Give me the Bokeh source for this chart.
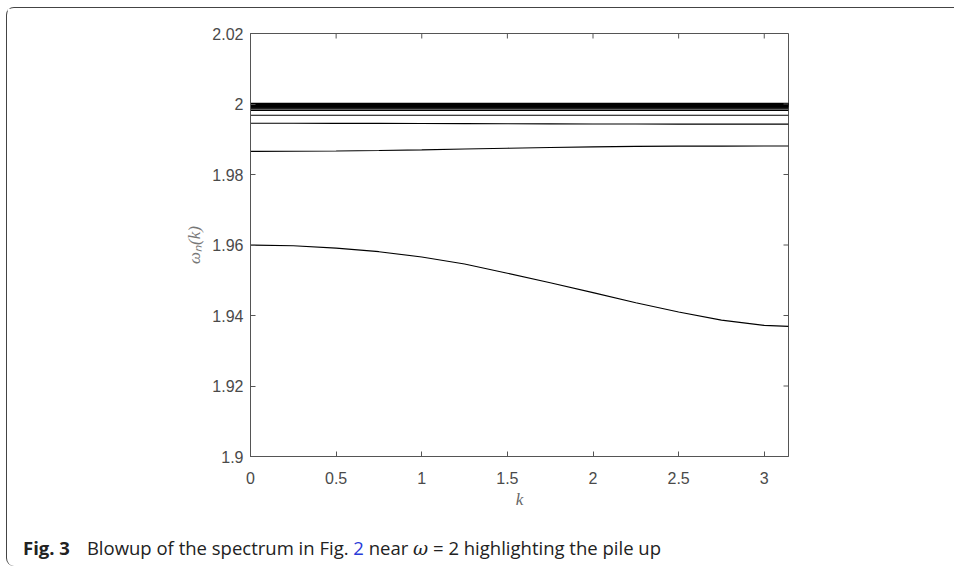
import numpy as np
from bokeh.plotting import figure
from bokeh.models import Range1d, LinearAxis, FixedTicker, Div, ColumnDataSource
from bokeh.layouts import column
from bokeh.embed import file_html
from bokeh.resources import INLINE

# ---------------- data ----------------
k_grid = [0.0, 0.25, 0.5, 0.75, 1.0, 1.25, 1.5, 1.75, 2.0, 2.25, 2.5, 2.75, 3.0, np.pi]

band_lowest = [1.9600, 1.9598, 1.9591, 1.9581, 1.9566, 1.9546, 1.9520,
               1.9493, 1.9465, 1.9436, 1.9410, 1.9387, 1.9372, 1.9369]
band_second = [1.98656, 1.98660, 1.98668, 1.98682, 1.98700, 1.98722, 1.98745,
               1.98766, 1.98785, 1.98797, 1.98803, 1.98806, 1.98808, 1.98808]
band_third = [1.99455, 1.99454, 1.99452, 1.99450, 1.99447, 1.99444, 1.99440,
              1.99437, 1.99434, 1.99432, 1.99430, 1.99429, 1.99428, 1.99428]
# nearly flat bands piling up at omega = 2
flat_levels = [1.9968,
               1.9982, 1.9986, 1.9989, 1.9991, 1.9992, 1.9993, 1.9994, 1.9995,
               1.9996, 1.9997, 1.99975, 1.9998, 1.99985, 1.9999, 1.99995,
               2.0, 2.00005, 2.0001, 2.00015, 2.0002]

x_ticks = [0, 0.5, 1, 1.5, 2, 2.5, 3]
x_tick_labels = ["0", "0.5", "1", "1.5", "2", "2.5", "3"]
y_ticks = [1.9, 1.92, 1.94, 1.96, 1.98, 2.0, 2.02]
y_tick_labels = ["1.9", "1.92", "1.94", "1.96", "1.98", "2", "2.02"]

x_range = (0, np.pi)
y_range = (1.9, 2.02)

AX = "#555555"
TXT = "#4a4a4a"

# ---------------- figure ----------------
p = figure(output_backend="svg", toolbar_location=None,
           frame_width=538, frame_height=423,
           min_border_left=243, min_border_right=158,
           min_border_top=25, min_border_bottom=80,
           x_range=Range1d(*x_range), y_range=Range1d(*y_range),
           x_axis_location=None, y_axis_location=None)
p.xgrid.visible = False
p.ygrid.visible = False
p.outline_line_color = AX
p.outline_line_width = 1
p.background_fill_color = "white"
p.border_fill_color = "white"

xs, ys = [], []
for band in (band_lowest, band_second, band_third):
    xs.append(list(k_grid))
    ys.append(list(band))
for lev in flat_levels:
    xs.append([k_grid[0], k_grid[-1]])
    ys.append([lev, lev])
src = ColumnDataSource(dict(xs=xs, ys=ys))
p.multi_line("xs", "ys", source=src, line_color="#000000", line_width=1.15)

# inward ticks on the top and right edges (MATLAB box style)
p.ray(x=x_ticks, y=[y_range[1]] * len(x_ticks), length=5, length_units="screen",
      angle=-np.pi / 2, line_color=AX, line_width=1)
p.ray(x=[x_range[1]] * len(y_ticks), y=y_ticks, length=5, length_units="screen",
      angle=np.pi, line_color=AX, line_width=1)


def style(ax, standoff):
    ax.axis_line_color = AX
    ax.axis_line_width = 1
    ax.major_tick_line_color = AX
    ax.major_tick_in = 5
    ax.major_tick_out = 0
    ax.minor_tick_line_color = None
    ax.major_label_text_font = "Liberation Sans"
    ax.major_label_text_font_size = "16px"
    ax.major_label_text_color = TXT
    ax.major_label_standoff = standoff


xb = LinearAxis(ticker=FixedTicker(ticks=x_ticks),
                major_label_overrides=dict(zip(x_ticks, x_tick_labels)))
style(xb, 15)
xb.axis_label = "k"
xb.axis_label_text_font = "Liberation Serif"
xb.axis_label_text_font_style = "italic"
xb.axis_label_text_font_size = "17px"
xb.axis_label_text_color = "#666666"
xb.axis_label_standoff = 3
p.add_layout(xb, "below")

yl = LinearAxis(ticker=FixedTicker(ticks=y_ticks),
                major_label_overrides=dict(zip(y_ticks, y_tick_labels)))
style(yl, 7)
yl.axis_label = "ωₙ(k)"
yl.axis_label_text_font = "Liberation Serif"
yl.axis_label_text_font_style = "italic"
yl.axis_label_text_font_size = "17px"
yl.axis_label_text_color = "#777777"
yl.axis_label_standoff = 5
p.add_layout(yl, "left")

caption = Div(
    text=('<b>Fig. 3</b><span style="display:inline-block;width:17px"></span>'
          'Blowup of the spectrum in Fig. <span style="color:#2a3bd8">2</span> near '
          '<i style="font-family:\'DejaVu Serif\',serif">ω</i> = 2 highlighting the pile up'),
    width=947, margin=(0, 0, 0, 0),
    styles={"font-family": "'Open Sans', sans-serif", "font-size": "18.5px",
            "line-height": "22px", "color": "#222222",
            "padding": "1px 0 6px 16px"})

layout = column(p, caption, spacing=0, margin=(7, 0, 0, 6),
                styles={"border-top": "1px solid #444444",
                        "border-left": "1px solid #444444",
                        "border-top-left-radius": "8px",
                        "border-bottom-left-radius": "8px"})

open("out.html", "w").write(file_html(layout, INLINE))
